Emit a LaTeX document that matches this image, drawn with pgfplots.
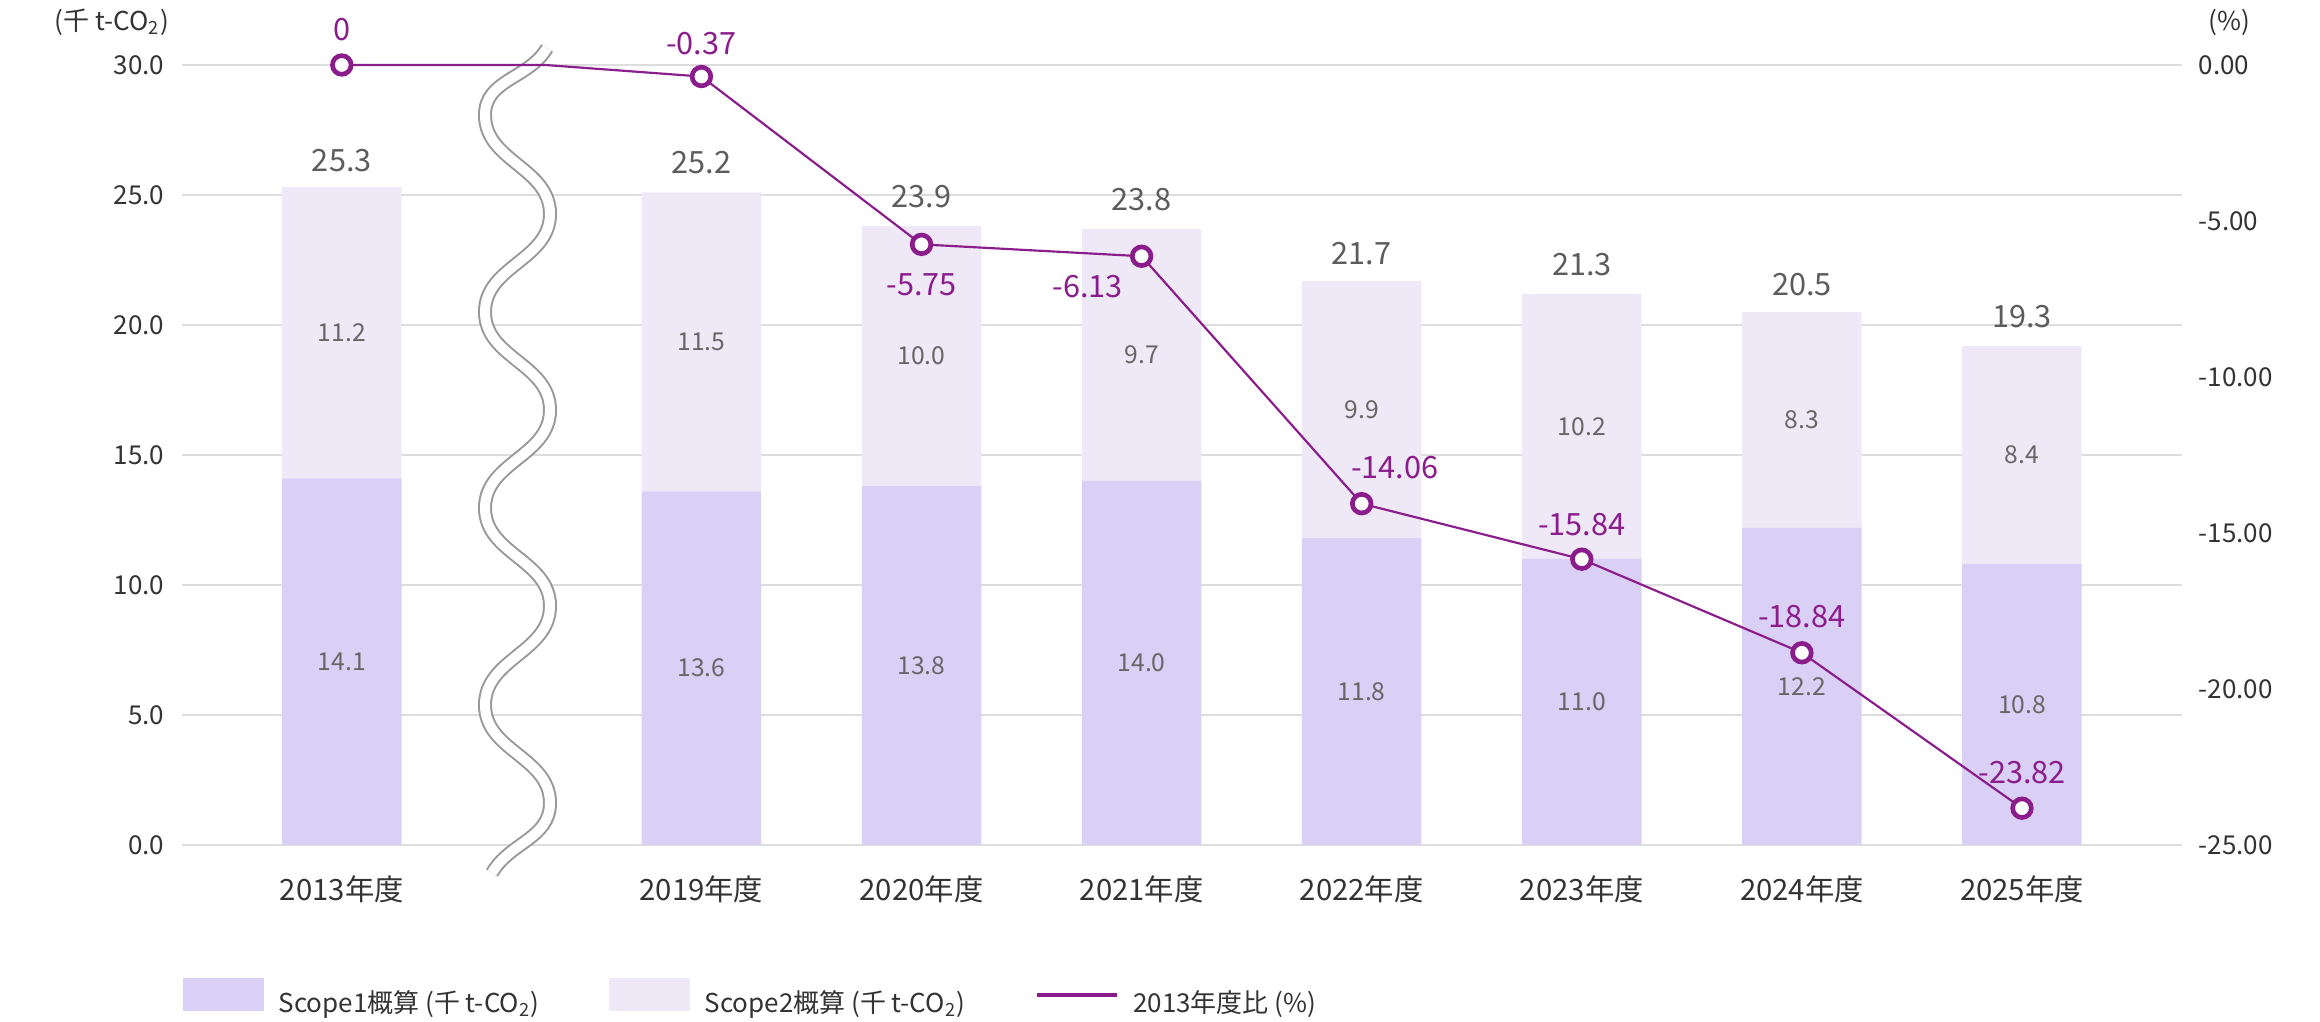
\documentclass[border=0pt]{standalone}
\usepackage{pgfplots}
\usepackage{pgfplotstable}
\pgfplotsset{compat=1.18}
\usepackage{fontspec}
\setmainfont{Noto Sans CJK JP}
\definecolor{sone}{HTML}{DAD0F5}
\definecolor{stwo}{HTML}{EFE8F7}
\definecolor{lpurple}{HTML}{8A1C8C}
\definecolor{gridc}{HTML}{DDDDDD}
\definecolor{txt}{HTML}{333333}
\definecolor{vtxt}{HTML}{666666}
\definecolor{ttxt}{HTML}{5C5C5C}
\definecolor{brk}{HTML}{999999}
\newcommand\fa{\fontsize{7.8}{9}\selectfont}
\newcommand\fb{\fontsize{8.8}{10}\selectfont}
\newcommand\fd{\fontsize{9.2}{11}\selectfont}
\newcommand\fc{\fontsize{7.4}{9}\selectfont}

\pgfplotstableread{
x      s1   s2   tot
-0.634 14.1 11.2 25.3
1      13.6 11.5 25.2
2      13.8 10.0 23.9
3      14.0 9.7  23.8
4      11.8 9.9  21.7
5      11.0 10.2 21.3
6      12.2 8.3  20.5
7      10.8 8.4  19.3
}\bars

\pgfplotstableread{
x      r
-0.634 0
0.29   0
1      -0.37
2      -5.75
3      -6.13
4      -14.06
5      -15.84
6      -18.84
7      -23.82
}\ratio

\begin{document}
\begin{tikzpicture}
\path[use as bounding box] (0,0) rectangle (696pt,306.6pt);
\begin{axis}[
  at={(54.6pt,53.1pt)}, anchor=south west, scale only axis,
  width=600pt, height=234pt,
  xmin=-1.36, xmax=7.727, ymin=0, ymax=30,
  axis line style={draw=none}, tick style={draw=none},
  ymajorgrids, grid style={gridc, line width=0.6pt},
  ytick={0,5,...,30},
  /pgf/number format/assume math mode=true,
  yticklabel={\pgfmathprintnumber[fixed,fixed zerofill,precision=1]{\tick}},
  yticklabel style={anchor=east, inner sep=0pt, xshift=-5.1pt, font=\fa, text=txt},
  xtick={-0.634,1,2,3,4,5,6,7},
  xticklabels={2013年度,2019年度,2020年度,2021年度,2022年度,2023年度,2024年度,2025年度},
  xticklabel style={anchor=base, inner sep=0pt, yshift=-16.8pt, font=\fb, text=txt},
  ybar stacked, bar width=35.85pt, clip=false]
\addplot[fill=sone, draw=none] table[x=x,y=s1]{\bars};
\addplot[fill=stwo, draw=none] table[x=x,y=s2]{\bars};
% totals
\node[anchor=base, font=\fd, text=ttxt, yshift=4.8pt] at (axis cs:-0.634,25.3) {25.3};
\node[anchor=base, font=\fd, text=ttxt, yshift=4.8pt] at (axis cs:1,25.2) {25.2};
\node[anchor=base, font=\fd, text=ttxt, yshift=4.8pt] at (axis cs:2,23.9) {23.9};
\node[anchor=base, font=\fd, text=ttxt, yshift=4.8pt] at (axis cs:3,23.8) {23.8};
\node[anchor=base, font=\fd, text=ttxt, yshift=4.8pt] at (axis cs:4,21.7) {21.7};
\node[anchor=base, font=\fd, text=ttxt, yshift=4.8pt] at (axis cs:5,21.3) {21.3};
\node[anchor=base, font=\fd, text=ttxt, yshift=4.8pt] at (axis cs:6,20.5) {20.5};
\node[anchor=base, font=\fd, text=ttxt, yshift=4.8pt] at (axis cs:7,19.3) {19.3};
\end{axis}

% axis break symbol
\draw[brk, line width=0.6pt, double=white, double distance=3pt]
  (164.1pt,292.2pt) to[out=-120,in=90] (145.5pt,272.1pt)
  to[out=-90,in=90] (165pt,242.4pt)
  to[out=-90,in=90] (145.5pt,213pt)
  to[out=-90,in=90] (165pt,183.6pt)
  to[out=-90,in=90] (145.5pt,154.2pt)
  to[out=-90,in=90] (165pt,124.8pt)
  to[out=-90,in=90] (145.5pt,95.1pt)
  to[out=-90,in=90] (165pt,65.7pt)
  to[out=-90,in=60] (147.6pt,44.7pt);

\begin{axis}[
  at={(54.6pt,53.1pt)}, anchor=south west, scale only axis,
  width=600pt, height=234pt,
  xmin=-1.36, xmax=7.727, ymin=-25, ymax=0,
  axis x line=none, axis y line*=right,
  axis line style={draw=none}, tick style={draw=none},
  ytick={-25,-20,-15,-10,-5,0},
  /pgf/number format/assume math mode=true,
  yticklabel={\pgfmathprintnumber[fixed,fixed zerofill,precision=2]{\tick}},
  yticklabel style={anchor=west, inner sep=0pt, xshift=4.8pt, font=\fa, text=txt},
  clip=false,
  legend columns=3, legend cell align=left,
  legend style={at={(0,0)}, anchor=north west, xshift=0.3pt, yshift=-39.9pt,
    draw=none, fill=none, inner sep=0pt, outer sep=0pt, font=\fa, text=txt,
    nodes={inner sep=0pt},
    /tikz/every odd column/.append style={column sep=4.3pt},
    /tikz/every even column/.append style={column sep=20.8pt}},
  ]
% bar segment values (placed in this axis: y2 = y1*25/30 - 25)
\node[font=\fc, text=vtxt] at (axis cs:-0.634,-19.125) {14.1};
\node[font=\fc, text=vtxt] at (axis cs:1,-19.333) {13.6};
\node[font=\fc, text=vtxt] at (axis cs:2,-19.25) {13.8};
\node[font=\fc, text=vtxt] at (axis cs:3,-19.167) {14.0};
\node[font=\fc, text=vtxt] at (axis cs:4,-20.083) {11.8};
\node[font=\fc, text=vtxt] at (axis cs:5,-20.417) {11.0};
\node[font=\fc, text=vtxt] at (axis cs:6,-19.917) {12.2};
\node[font=\fc, text=vtxt] at (axis cs:7,-20.5) {10.8};
\node[font=\fc, text=vtxt] at (axis cs:-0.634,-8.583) {11.2};
\node[font=\fc, text=vtxt] at (axis cs:1,-8.875) {11.5};
\node[font=\fc, text=vtxt] at (axis cs:2,-9.333) {10.0};
\node[font=\fc, text=vtxt] at (axis cs:3,-9.292) {9.7};
\node[font=\fc, text=vtxt] at (axis cs:4,-11.042) {9.9};
\node[font=\fc, text=vtxt] at (axis cs:5,-11.583) {10.2};
\node[font=\fc, text=vtxt] at (axis cs:6,-11.375) {8.3};
\node[font=\fc, text=vtxt] at (axis cs:7,-12.5) {8.4};
\addlegendimage{legend image code/.code={\fill[sone] (0pt,-1.9pt) rectangle (24pt,7.7pt);}}
\addlegendentry{Scope1概算 (千 t-CO\textsubscript{2})}
\addlegendimage{legend image code/.code={\fill[stwo] (0pt,-1.9pt) rectangle (24pt,7.7pt);}}
\addlegendentry{Scope2概算 (千 t-CO\textsubscript{2})}
\addplot[lpurple, line width=0.65pt, mark=*, mark size=2.8pt,
  mark options={fill=white, draw=lpurple, line width=1.4pt},
  mark indices={1,3,4,5,6,7,8,9},
  legend image code/.code={\draw[lpurple, line width=1.2pt] (0pt,2.9pt) -- (24pt,2.9pt);}]
  table[x=x,y=r]{\ratio};
\addlegendentry{2013年度比 (\%)}
\node[font=\fd, text=lpurple, yshift=10.5pt] at (axis cs:-0.634,0) {0};
\node[font=\fd, text=lpurple, yshift=10pt] at (axis cs:1,-0.37) {-0.37};
\node[font=\fd, text=lpurple, yshift=-12pt] at (axis cs:2,-5.75) {-5.75};
\node[font=\fd, text=lpurple, anchor=east, inner sep=0pt, xshift=-5.4pt, yshift=-9pt] at (axis cs:3,-6.13) {-6.13};
\node[font=\fd, text=lpurple, xshift=9.9pt, yshift=10.8pt] at (axis cs:4,-14.06) {-14.06};
\node[font=\fd, text=lpurple, yshift=10.5pt] at (axis cs:5,-15.84) {-15.84};
\node[font=\fd, text=lpurple, yshift=10.8pt] at (axis cs:6,-18.84) {-18.84};
\node[font=\fd, text=lpurple, yshift=10.8pt] at (axis cs:7,-23.82) {-23.82};
\end{axis}

\node[font=\fa, text=txt] at (33.6pt,300pt) {(千 t-CO\textsubscript{2})};
\node[font=\fa, text=txt, anchor=west] at (659.1pt,300pt) {(\%)};
\end{tikzpicture}
\end{document}
